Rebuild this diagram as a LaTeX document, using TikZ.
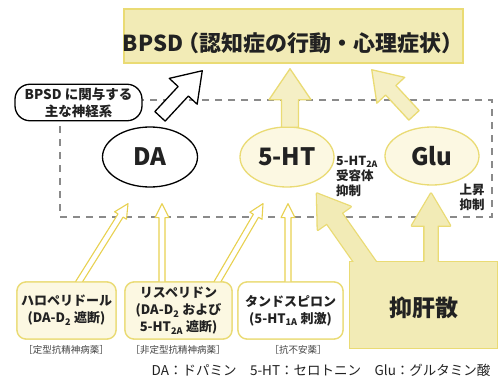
\documentclass[tikz,border=0pt]{standalone}
\usepackage{fontspec}
\setmainfont{Noto Sans CJK JP}
\usetikzlibrary{calc,shapes.geometric}
\definecolor{txt}{HTML}{222222}
\definecolor{ylw}{HTML}{E8D150}
\definecolor{ylwline}{HTML}{EADB74}
\definecolor{khaki}{HTML}{F2EBB6}
\definecolor{cream}{HTML}{FCF8E2}
\definecolor{dashgray}{HTML}{8A8A8A}
\newcommand\fsz[2]{\fontsize{#1}{#2}\selectfont}
% #1 style, #2 tail coordinate, #3 tip coordinate, #4 shaft half width, #5 head half width, #6 head length
\newcommand\blockarrow[6]{%
  \coordinate (bah) at ($(#3)!#6!(#2)$);
  \path[#1] ($(#2)!#4!90:(#3)$) -- ($(bah)!#4!90:(#3)$) -- ($(bah)!#5!90:(#3)$) -- (#3)
    -- ($(bah)!#5!-90:(#3)$) -- ($(bah)!#4!-90:(#3)$) -- ($(#2)!#4!-90:(#3)$) -- cycle;
}
\begin{document}
\begin{tikzpicture}[x=1pt,y=-1pt,
  dashedframe/.style={draw=dashgray, line width=1.8pt, dash pattern=on 7pt off 6pt},
  titlebox/.style={draw=ylwline, line width=1.5pt, fill=khaki},
  labelbox/.style={draw=black, line width=1.3pt, fill=white, rounded corners=15pt,
    minimum width=127pt, minimum height=35pt, align=center, font=\fsz{13.5}{17}\bfseries, text=txt},
  ell/.style={ellipse, line width=1.3pt, minimum width=95pt, minimum height=60pt,
    font=\fsz{24}{24}\bfseries, text=txt, inner sep=0pt},
  drugbox/.style={draw=ylwline, line width=1.3pt, rounded corners=9pt, minimum height=57pt,
    align=center, font=\fsz{13}{17}\bfseries, text=txt, inner sep=0pt},
  caption/.style={font=\fsz{9.5}{10}, text=txt!85},
  smalllabel/.style={font=\fsz{12.5}{15}\bfseries, text=txt, inner sep=0pt},
  thinarrow/.style={draw=ylw, line width=1.1pt, fill=white, line join=round},
  bigyarrow/.style={draw=ylwline, line width=1.3pt, fill=khaki!80, line join=round},
  whitearrow/.style={draw=black, line width=1.3pt, fill=white, line join=round}
]
\useasboundingbox (0,0) rectangle (502,382);
\fill[white] (0,0) rectangle (502,382);

% frame of the neural systems
\draw[dashedframe] (60,100) rectangle (492,217);

% title
\node[titlebox, minimum width=339pt, minimum height=54pt] (bpsd) at (293.5,36) {};
\node[font=\fsz{22}{22}\bfseries, text=txt] (bpsdtext) at (293,43) {BPSD\kern-6pt（認知症の行動・心理症状）};

% label
\node[labelbox] (lbl) at (78.5,102.5) {BPSD に関与する\\主な神経系};

% ellipses
\node[ell, draw=black, fill=white] (DA) at (150,157) {DA};
\node[ell, draw=ylwline, fill=cream, minimum width=94pt] (HT) at (287,157) {5-HT};
\node[ell, draw=ylwline, fill=cream, minimum width=94pt, minimum height=58pt] (Glu) at (432,156) {Glu};

\node[smalllabel, anchor=west, align=left] (htlabel) at (336,176) {5-HT\textsubscript{2A}\\受容体\\抑制};
\node[smalllabel, align=center] (uplabel) at (472,197) {上昇\\抑制};

% top block arrows
\coordinate (t1) at ($(DA.north)+(10,-10)$);
\coordinate (e1) at ($(bpsd.south west)+(79,7)$);
\coordinate (t2) at ($(HT.north)+(3,1)$);
\coordinate (e2) at ($(bpsd.south)+(-3.5,5)$);
\coordinate (t3) at ($(Glu.north)+(-18,-11)$);
\coordinate (e3) at ($(bpsd.south east)+(-92,6)$);
\blockarrow{whitearrow}{t1}{e1}{7pt}{19pt}{28pt}
\blockarrow{bigyarrow}{t2}{e2}{8.5pt}{21pt}{31pt}
\blockarrow{bigyarrow}{t3}{e3}{7pt}{19pt}{28pt}

% drug boxes
\node[drugbox, fill=cream, minimum width=99pt] (halo) at (66.5,310.5) {};
\node[drugbox, fill=cream, minimum width=107pt] (risp) at (178.5,310.5) {};
\node[drugbox, fill=white, minimum width=105pt] (tand) at (290.5,310.5) {};

% thin arrows
\coordinate (a1t) at ($(halo.north)+(11.5,2)$);
\coordinate (a1e) at ($(DA.south)+(-22,16)$);
\coordinate (a2t) at ($(risp.north)+(-16.5,2)$);
\coordinate (a2e) at ($(DA.south)+(12,16)$);
\coordinate (a3t) at ($(risp.north)+(38,2)$);
\coordinate (a3e) at ($(HT.south)+(-24,16)$);
\coordinate (a4t) at ($(tand.north)+(-2.5,2)$);
\coordinate (a4e) at ($(HT.south)+(1,16)$);
\blockarrow{thinarrow}{a1t}{a1e}{3pt}{7pt}{14pt}
\blockarrow{thinarrow}{a2t}{a2e}{3pt}{7pt}{14pt}
\blockarrow{thinarrow}{a3t}{a3e}{3pt}{7pt}{14pt}
\blockarrow{thinarrow}{a4t}{a4e}{3pt}{7pt}{14pt}

% redraw drug boxes with text on top of the arrow tails
\node[drugbox, fill=cream, minimum width=99pt] (halo2) at (halo) {ハロペリドール\\(DA-D\textsubscript{2} 遮断)};
\node[drugbox, fill=cream, minimum width=107pt] (risp2) at (risp) {リスペリドン\\(DA-D\textsubscript{2} および\\5-HT\textsubscript{2A} 遮断)};
\node[drugbox, fill=white, minimum width=105pt] (tand2) at (tand) {タンドスピロン\\(5-HT\textsubscript{1A} 刺激)};

\node[caption] (c1) at (66,350) {［定型抗精神病薬］};
\node[caption] (c2) at (178,350) {［非定型抗精神病薬］};
\node[caption] (c3) at (298,350) {［抗不安薬］};

% Yokukansan box merged with its two arrows
\node[minimum width=147pt, minimum height=86pt, outer sep=0pt, inner sep=0pt, draw=ylwline, line width=2.6pt] (yoku) at (423.5,305) {};
\coordinate (b1t) at ($(yoku.north west)+(22,10)$);
\coordinate (b1e) at ($(HT.south)+(30,6)$);
\coordinate (b2t) at ($(yoku.north)+(7.5,10)$);
\coordinate (b2e) at ($(Glu.south)+(-1,8)$);
\blockarrow{draw=ylwline, line width=2.6pt, line join=round}{b1t}{b1e}{9pt}{20pt}{30pt}
\blockarrow{draw=ylwline, line width=2.6pt, line join=round}{b2t}{b2e}{6.5pt}{19pt}{32pt}
\fill[khaki] (yoku.north west) rectangle (yoku.south east);
\blockarrow{fill=khaki}{b1t}{b1e}{9pt}{20pt}{30pt}
\blockarrow{fill=khaki}{b2t}{b2e}{6.5pt}{19pt}{32pt}
\node[font=\fsz{23}{23}\bfseries, text=txt] (yokutext) at (423.5,308) {抑肝散};

% legend
\node[anchor=east, font=\fsz{13.5}{14}, text=txt] (legend) at (494,370) {DA：ドパミン　5-HT：セロトニン　Glu：グルタミン酸};
\end{tikzpicture}
\end{document}
